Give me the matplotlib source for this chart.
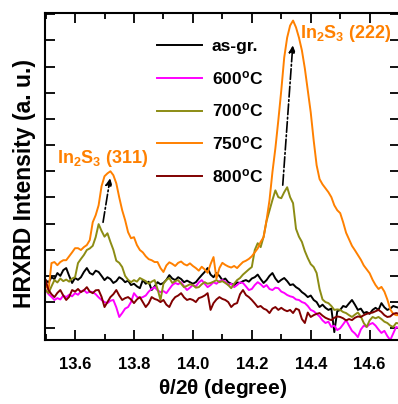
import numpy as np
import matplotlib
matplotlib.use('Agg')
import matplotlib.pyplot as plt
from matplotlib.ticker import MultipleLocator

plt.rcParams['font.family'] = ['Liberation Sans', 'DejaVu Sans']
plt.rcParams['font.weight'] = 'bold'
plt.rcParams['mathtext.fontset'] = 'custom'
plt.rcParams['mathtext.rm'] = 'Liberation Sans:bold'
plt.rcParams['mathtext.it'] = 'Liberation Sans:bold'
plt.rcParams['mathtext.bf'] = 'Liberation Sans:bold'

# 2theta grid (degree), step 0.01
theta = np.round(13.50 + 0.01 * np.arange(121), 2)

as_grown = [
    184, 175, 195, 188, 211, 200, 222, 230, 200, 173,
    192, 185, 195, 215, 230, 211, 205, 220, 215, 200,
    184, 195, 188, 173, 180, 195, 188, 176, 182, 165,
    170, 160, 153, 184, 170, 178, 146, 160, 176, 168,
    173, 185, 203, 190, 184, 195, 188, 176, 182, 176,
    170, 176, 190, 203, 215, 230, 205, 195, 211, 200,
    184, 190, 176, 170, 165, 175, 173, 180, 184, 178,
    190, 195, 205, 188, 173, 184, 200, 211, 190, 176,
    185, 192, 180, 165, 168, 157, 150, 138, 130, 119,
    125, 108, 100, 81, 90, 78, 70, 75, -15, 65,
    70, 85, 81, 95, 108, 90, 70, 75, 58, 62,
    55, 70, 78, 70, 96, 80, 70, 75, 85, 81, 78]

t600 = [
    146, 130, 120, 108, 115, 110, 125, 119, 128, 122,
    134, 128, 140, 146, 135, 140, 138, 130, 118, 108,
    100, 96, 105, 108, 80, 43, 58, 75, 81, 100,
    134, 120, 115, 119, 125, 140, 150, 157, 145, 138,
    142, 134, 150, 165, 173, 168, 176, 160, 146, 155,
    165, 160, 175, 184, 170, 157, 165, 176, 170, 180,
    184, 178, 165, 170, 157, 165, 175, 173, 160, 146,
    150, 165, 176, 168, 157, 165, 150, 146, 155, 153,
    140, 135, 127, 122, 119, 110, 108, 100, 96, 85,
    70, 65, 55, 45, 30, 20, 25, 5, 10, -7,
    0, 15, 31, 10, -10, -20, -34, -5, 10, 5,
    15, 20, 10, -5, -18, -10, -30, -45, -20, 5, 0]

t700 = [
    146, 134, 160, 184, 175, 190, 180, 186, 178, 190,
    195, 249, 265, 280, 299, 305, 315, 348, 398, 372,
    350, 363, 330, 300, 258, 250, 234, 200, 185, 176,
    184, 178, 192, 186, 180, 170, 178, 184, 150, 108,
    170, 185, 192, 173, 180, 184, 170, 157, 162, 168,
    165, 155, 157, 168, 176, 170, 173, 178, 184, 176,
    180, 173, 165, 153, 170, 184, 192, 205, 215, 225,
    234, 299, 325, 310, 350, 410, 450, 490, 527, 501,
    497, 520, 539, 501, 478, 380, 350, 330, 295, 268,
    245, 234, 211, 150, 110, 100, 96, 85, 70, 72,
    70, 62, 58, 50, 43, 52, 60, 45, 20, 5,
    30, 43, 38, 43, 35, 25, 20, 10, 5, 20, 18]

t750 = [
    165, 146, 249, 253, 241, 253, 260, 260, 275, 290,
    306, 306, 299, 310, 318, 337, 405, 432, 470, 543,
    581, 592, 600, 585, 554, 500, 451, 413, 367, 344,
    348, 318, 299, 290, 275, 264, 260, 253, 253, 230,
    215, 240, 252, 246, 238, 250, 255, 245, 240, 248,
    238, 230, 220, 235, 225, 212, 245, 272, 190, 230,
    250, 242, 236, 232, 238, 230, 242, 253, 258, 265,
    275, 290, 305, 330, 348, 413, 489, 597, 688, 795,
    909, 1035, 1111, 1157, 1176, 1150, 1111, 1062, 993, 909,
    825, 718, 623, 570, 550, 535, 520, 501, 470, 451,
    440, 405, 365, 340, 315, 298, 280, 262, 240, 225,
    210, 185, 165, 150, 158, 140, 110, 72, 55, 50, 50]

t800 = [
    184, 146, 130, 119, 135, 146, 125, 108, 120, 146,
    140, 150, 138, 145, 157, 140, 134, 145, 146, 120,
    81, 100, 119, 130, 146, 125, 108, 115, 119, 110,
    96, 110, 119, 100, 81, 95, 119, 112, 108, 100,
    108, 90, 81, 105, 119, 125, 134, 118, 108, 112,
    108, 100, 115, 119, 125, 134, 70, 96, 110, 119,
    112, 108, 100, 81, 92, 96, 130, 146, 127, 119,
    108, 95, 81, 85, 75, 70, 58, 75, 81, 70,
    78, 70, 65, 70, 58, 75, 70, 35, 20, 60,
    43, 50, 55, 58, 48, 40, 35, 31, 40, 45,
    43, 38, 30, 35, 31, 40, 45, 43, 50, 55,
    58, 60, 65, 70, 62, 50, 43, 45, 55, 58, 55]

series = [as_grown, t600, t700, t750, t800]
labels = ['as-gr.', r'600$^{\rm o}$C', r'700$^{\rm o}$C', r'750$^{\rm o}$C', r'800$^{\rm o}$C']
colors = ['black', '#ff00ff', '#8c8c14', '#ff8000', '#800000']

# peak shift arrows: (tail, head) and labels
arrows = [((13.695, 405), (13.719, 573)), ((14.305, 547), (14.339, 1081))]
peak_labels = [r'In$_2$S$_3$ (311)', r'In$_2$S$_3$ (222)']
label_pos = [(13.539, 631), (14.363, 1108)]

fig = plt.figure(figsize=(3.98, 4.04), dpi=100)
ax = fig.add_axes([45 / 398, 64 / 404, 355 / 398, 327 / 404])

for y, lab, c in zip(series, labels, colors):
    ax.plot(theta, y, color=c, lw=1.4, label=lab)

for (tail, head) in arrows:
    ax.annotate('', xy=head, xytext=tail,
                arrowprops=dict(arrowstyle='-|>', linestyle='-.', color='black',
                                lw=1.2, mutation_scale=10, shrinkA=0, shrinkB=0))
for txt, pos in zip(peak_labels, label_pos):
    ax.text(pos[0], pos[1], txt, color='#ff8000', fontsize=13, fontweight='bold',
            va='baseline', ha='left')

ax.set_xlim(13.498, 14.703)
ax.set_ylim(-45, 1205)
ax.xaxis.set_major_locator(MultipleLocator(0.2))
ax.xaxis.set_minor_locator(MultipleLocator(0.1))
ax.yaxis.set_major_locator(MultipleLocator(100))
ax.set_yticklabels([])
ax.tick_params(axis='both', which='major', direction='in', length=7, width=1.3,
               top=True, right=True, labelsize=12)
ax.tick_params(axis='x', which='major', pad=12)
ax.tick_params(axis='x', which='minor', direction='in', length=4, width=1.3, top=True)
for s in ax.spines.values():
    s.set_linewidth(1.5)
for lab in ax.get_xticklabels():
    lab.set_fontweight('bold')

ax.set_xlabel(r'$\mathbf{\theta}$/2$\mathbf{\theta}$ (degree)', fontsize=15, fontweight='bold', labelpad=4)
ax.set_ylabel('HRXRD Intensity (a. u.)', fontsize=16.5, fontweight='bold', labelpad=3)
ax.yaxis.label.set_y(0.48)

leg = ax.legend(loc='upper left', bbox_to_anchor=(157 / 398, 1 - 39 / 404),
                bbox_transform=fig.transFigure, frameon=False, fontsize=12.5,
                handlelength=2.6, handletextpad=0.55, labelspacing=0.85,
                borderpad=0, borderaxespad=0)
for t in leg.get_texts():
    t.set_fontweight('bold')

fig.savefig('out.png', dpi=100)
